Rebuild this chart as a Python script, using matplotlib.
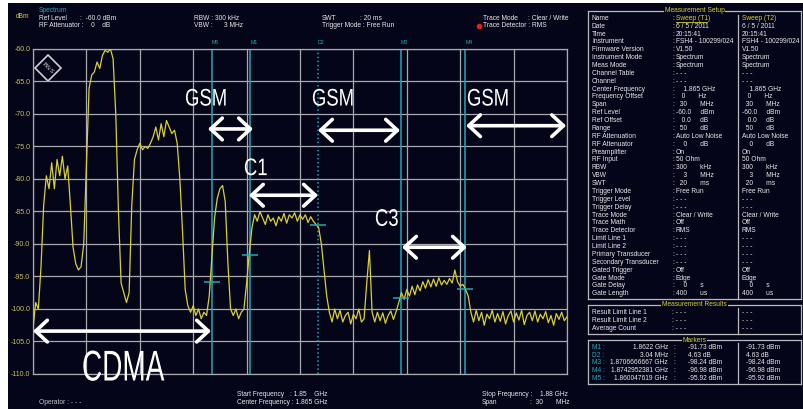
import matplotlib
matplotlib.use("Agg")
import matplotlib.pyplot as plt
import numpy as np
from matplotlib.patches import Rectangle, Polygon, PathPatch
from matplotlib.lines import Line2D
from matplotlib.textpath import TextPath
from matplotlib.font_manager import FontProperties
import matplotlib.transforms as mtransforms

# ---- data ----
f_start, f_stop = 1.85, 1.88          # GHz
ref_level, bottom_level = -60.0, -110.0

# trace levels (dBm), one per sweep point, 0.15 MHz apart
trace_dbm = [
    -103.0, -99.0, -100.0, -93.5, -84.0, -79.5, -81.5, -77.5, -81.5, -77.0,
    -79.5, -76.5, -80.0, -78.0, -84.0, -90.5, -93.0, -94.0, -93.5, -90.0,
    -78.0, -66.0, -64.0, -63.5, -62.0, -63.0, -61.0, -60.2, -60.5, -60.0,
    -61.5, -70.0, -85.0, -96.0, -97.5, -99.0, -97.5, -84.0, -77.0, -75.5,
    -74.5, -75.5, -75.0, -75.3, -74.5, -73.5, -72.0, -74.0, -71.5, -73.5,
    -71.0, -72.0, -73.0, -72.5, -74.5, -80.0, -88.0, -97.0, -99.5, -100.5,
    -99.5, -101.0, -100.0, -101.5, -100.5, -101.0, -98.0, -92.0, -86.0, -83.0,
    -81.5, -81.0, -83.5, -93.0, -100.0, -101.0, -100.0, -101.5, -100.5, -100.0,
    -96.0, -91.5, -87.5, -85.5, -86.5, -85.0, -86.0, -87.0, -85.5, -86.5,
    -86.0, -87.2, -85.8, -86.5, -85.3, -86.8, -85.5, -86.0, -85.2, -86.5,
    -85.5, -86.2, -85.5, -86.7, -85.8, -86.5, -87.0, -87.5, -90.0, -94.0,
    -98.0, -100.5, -102.0, -100.0, -101.5, -100.2, -102.0, -101.0, -100.5, -102.3,
    -100.8, -101.5, -100.0, -102.0, -101.5, -96.0, -91.0, -100.5, -102.0, -100.5,
    -101.8, -100.6, -102.2, -101.0, -100.3, -101.6, -100.4, -99.0, -97.5, -98.5,
    -97.0, -98.0, -96.5, -97.8, -96.3, -97.2, -95.8, -96.8, -95.5, -96.6,
    -95.4, -96.5, -95.2, -96.3, -95.6, -96.2, -95.3, -96.0, -94.0, -95.8,
    -96.5, -96.2, -97.0, -98.0, -100.5, -102.0, -100.2, -101.8, -100.5, -102.5,
    -100.8, -101.5, -100.2, -102.0, -100.7, -101.9, -100.4, -102.3, -101.0, -100.3,
    -102.0, -100.6, -101.7, -100.2, -102.4, -101.0, -100.5, -101.8, -100.3, -102.0,
    -100.8, -101.5, -100.4, -102.1, -101.0, -102.5, -100.7, -101.6, -100.5, -101.8,
    -101.2,
]
trace_freq = np.linspace(f_start, f_stop, len(trace_dbm))

marker_names = ["M5", "M1", "D2", "M3", "M4"]
marker_freq = [1.860047619, 1.8622, 1.86601, 1.8706666667, 1.8742952381]
marker_dbm = [-95.92, -91.73, -87.10, -98.24, -96.98]

# band annotations: label, arrow start/end (GHz), arrow level, label left/baseline (GHz, dBm)
bands = [
    ("GSM", 1.85983, 1.86236, -72.3, 1.85854, -68.7),
    ("GSM", 1.86601, 1.87062, -72.5, 1.86567, -68.7),
    ("GSM", 1.87433, 1.87995, -71.8, 1.87438, -68.7),
    ("C1", 1.86213, 1.86601, -82.5, 1.86185, -79.4),
    ("C3", 1.87073, 1.87438, -90.5, 1.86921, -87.2),
    ("CDMA", 1.85000, 1.86000, -103.4, 1.85275, -111.0),
]

setup_rows = [
    ("Name", "Sweep (T1)", "Sweep (T2)"),
    ("Date", "6 / 5 / 2011", "6 / 5 / 2011"),
    ("Time", "20:15:41", "20:15:41"),
    ("Instrument", "FSH4 - 100299/024", "FSH4 - 100299/024"),
    ("Firmware Version", "V1.50", "V1.50"),
    ("Instrument Mode", "Spectrum", "Spectrum"),
    ("Meas Mode", "Spectrum", "Spectrum"),
    ("Channel Table", "- - -", "- - -"),
    ("Channel", "- - -", "- - -"),
    ("Center Frequency", "    1.865 GHz", "    1.865 GHz"),
    ("Frequency Offset", "   0       Hz", "   0       Hz"),
    ("Span", "  30       MHz", "  30       MHz"),
    ("Ref Level", "-60.0     dBm", "-60.0     dBm"),
    ("Ref Offset", "   0.0     dB", "   0.0     dB"),
    ("Range", "  50       dB", "  50       dB"),
    ("RF Attenuation", "Auto Low Noise", "Auto Low Noise"),
    ("RF Attenuator", "    0       dB", "    0       dB"),
    ("Preamplifier", "On", "On"),
    ("RF Input", "50 Ohm", "50 Ohm"),
    ("RBW", "300       kHz", "300       kHz"),
    ("VBW", "    3       MHz", "    3       MHz"),
    ("SWT", "  20       ms", "  20       ms"),
    ("Trigger Mode", "Free Run", "Free Run"),
    ("Trigger Level", "- - -", "- - -"),
    ("Trigger Delay", "- - -", "- - -"),
    ("Trace Mode", "Clear / Write", "Clear / Write"),
    ("Trace Math", "Off", "Off"),
    ("Trace Detector", "RMS", "RMS"),
    ("Limit Line 1", "- - -", "- - -"),
    ("Limit Line 2", "- - -", "- - -"),
    ("Primary Transducer", "- - -", "- - -"),
    ("Secondary Transducer", "- - -", "- - -"),
    ("Gated Trigger", "Off", "Off"),
    ("Gate Mode", "Edge", "Edge"),
    ("Gate Delay", "    0       s", "    0       s"),
    ("Gate Length", "400       us", "400       us"),
]
result_rows = ["Result Limit Line 1", "Result Limit Line 2", "Average Count"]
marker_table = [
    ("M1", "1.8622 GHz", "-91.73 dBm"),
    ("D2", "3.04 MHz", "4.63 dB"),
    ("M3", "1.8706666667 GHz", "-98.24 dBm"),
    ("M4", "1.8742952381 GHz", "-96.98 dBm"),
    ("M5", "1.860047619 GHz", "-95.92 dBm"),
]

# ---- style ----
BG = "#05051a"
GRID = "#a8a8b0"
TXT = "#e8e8e8"
YEL = "#d8d030"
CYAN = "#22a8b4"
SMALL = "Liberation Sans"
FS = 4.8

W, H = 804, 409
fig = plt.figure(figsize=(W / 100, H / 100), dpi=100)
fig.patch.set_facecolor("white")
fig.add_artist(Rectangle((8 / W, 0), 1, 1 - 3 / H, transform=fig.transFigure,
                         facecolor=BG, edgecolor="none", zorder=-10))


def ftext(x, y, s, **kw):
    kw.setdefault("color", TXT)
    kw.setdefault("fontsize", FS)
    kw.setdefault("family", SMALL)
    kw.setdefault("va", "center")
    fig.text(x / W, 1 - y / H, s, **kw)


def fline(x0, y0, x1, y1, **kw):
    kw.setdefault("color", "#b8b8c0")
    kw.setdefault("lw", 0.9)
    fig.add_artist(Line2D([x0 / W, x1 / W], [1 - y0 / H, 1 - y1 / H],
                          transform=fig.transFigure, **kw))


def fbox(x0, y0, x1, y1, title=None):
    fline(x0, y0, x1, y0)
    fline(x0, y1, x1, y1)
    fline(x0, y0, x0, y1)
    fline(x1, y0, x1, y1)
    if title:
        ftext((x0 + x1) / 2, y0, title, color=YEL, ha="center",
              bbox=dict(facecolor=BG, edgecolor="none", pad=0.6))


# ---- spectrum axes ----
ax = fig.add_axes([33 / W, 1 - 374 / H, 534 / W, 325 / H])
ax.set_facecolor(BG)
ax.set_xlim(f_start, f_stop)
ax.set_ylim(bottom_level, ref_level)
ax.set_xticks(np.linspace(f_start, f_stop, 11))
ax.set_yticks(np.arange(bottom_level, ref_level + 1, 5))
ax.set_xticklabels([])
ax.set_yticklabels([f"{v:.1f}" for v in np.arange(bottom_level, ref_level + 1, 5)],
                   color="#c8c060", fontsize=5, family=SMALL)
ax.tick_params(length=0, pad=2)
ax.grid(True, color=GRID, lw=0.9)
for s in ax.spines.values():
    s.set_color(GRID)
    s.set_linewidth(0.9)

for name, f, lv in zip(marker_names, marker_freq, marker_dbm):
    ax.axvline(f, color=CYAN, lw=1.1, ls=":" if name.startswith("D") else "-", zorder=2)
    ax.plot(f, lv, marker="_", ms=12, mew=1.1, color=CYAN, zorder=4)
    ax.text(f, 1.012, name, transform=ax.get_xaxis_transform(), color=CYAN,
            fontsize=3.8, ha="left", va="bottom", family=SMALL)

ax.plot(trace_freq, trace_dbm, color=YEL, lw=0.9, zorder=3)

# condensed white labels (narrow, tall glyphs like in the screenshot)
label_font = FontProperties(family="Liberation Sans")
for label, a0, a1, lv, tx, ty in bands:
    ax.annotate("", xy=(a1, lv), xytext=(a0, lv), annotation_clip=False,
                arrowprops=dict(arrowstyle="<->,head_length=0.7,head_width=0.65",
                                color="white", lw=2.6, shrinkA=0, shrinkB=0,
                                mutation_scale=12))
    sx, sy = (28, 43) if label == "CDMA" else (18.5, 24)
    tp = TextPath((0, 0), label, size=1, prop=label_font)
    tr = mtransforms.Affine2D().scale(sx, sy) + mtransforms.ScaledTranslation(tx, ty, ax.transData)
    ax.add_patch(PathPatch(tp, transform=tr, facecolor="white", edgecolor="none",
                           zorder=5, clip_on=False))

# R&S logo (diamond)
logo_t = ax.transAxes
cx, cy, dx, dy = 15 / 534, 1 - 19 / 325, 13 / 534, 13 / 325
ax.add_patch(Polygon([(cx - dx, cy), (cx, cy + dy), (cx + dx, cy), (cx, cy - dy)],
                     closed=True, fill=False, edgecolor="#d0d0d0", lw=1.2,
                     transform=logo_t))
ax.text(cx, cy, "R&S", transform=logo_t, color="#d0d0d0", rotation=-45,
        fontsize=4.5, ha="center", va="center", family="DejaVu Serif")

# ---- header ----
ftext(16, 16, "dBm", color=YEL)
ftext(39, 10, "Spectrum", color=CYAN)
ftext(39, 18, "Ref Level")
ftext(80, 18, ":  -60.0 dBm")
ftext(39, 25.5, "RF Attenuator :    0    dB")
ftext(194, 18, "RBW : 300 kHz")
ftext(194, 25.5, "VBW :      3 MHz")
ftext(322, 18, "SWT")
ftext(360, 18, ": 20 ms")
ftext(322, 25.5, "Trigger Mode : Free Run")
ftext(483, 18, "Trace Mode")
ftext(528, 18, ": Clear / Write")
ftext(483, 25.5, "Trace Detector : RMS")
fig.add_artist(Line2D([479 / W], [1 - 25.5 / H], marker="o", ms=3, color="#e02020",
                      transform=fig.transFigure))

# ---- footer ----
ftext(39, 402, "Operator : - - -", color="#c8c8c8")
ftext(237, 394, "Start Frequency")
ftext(290, 394, ": 1.85    GHz")
ftext(237, 402, "Center Frequency : 1.865 GHz")
ftext(482, 394, "Stop Frequency :    1.88 GHz")
ftext(482, 402, "Span")
ftext(530, 402, ":  30       MHz")

# ---- right panel ----
fbox(588, 11, 801, 299, "Measurement Setup")
fline(738, 15, 738, 299)
for i, (lab, v1, v2) in enumerate(setup_rows):
    y = 18.3 + i * 7.87
    ftext(592, y, lab)
    ftext(672, y, ":")
    if i == 0:
        ftext(676, y, v1, color=YEL)
        fline(676, y + 3.5, 707, y + 3.5, color=YEL, lw=0.6)
        ftext(742, y, v2, color=YEL)
    else:
        ftext(676, y, v1)
        ftext(742, y, v2)

fbox(588, 305, 801, 334, "Measurement Results")
fline(738, 308, 738, 334)
for i, lab in enumerate(result_rows):
    y = 313 + i * 8
    ftext(592, y, lab)
    ftext(672, y, ": - - -")
    ftext(742, y, "- - -")

fbox(588, 340, 801, 384, "Markers")
fline(738, 343, 738, 384)
for i, (m, fv, lv) in enumerate(marker_table):
    y = 347.3 + i * 7.8
    ftext(592, y, m + " :", color=CYAN)
    ftext(668, y, fv, ha="right")
    ftext(673, y, ":")
    ftext(688, y, lv)
    ftext(746, y, lv)

fig.savefig("out.png", dpi=100, facecolor=fig.get_facecolor())
